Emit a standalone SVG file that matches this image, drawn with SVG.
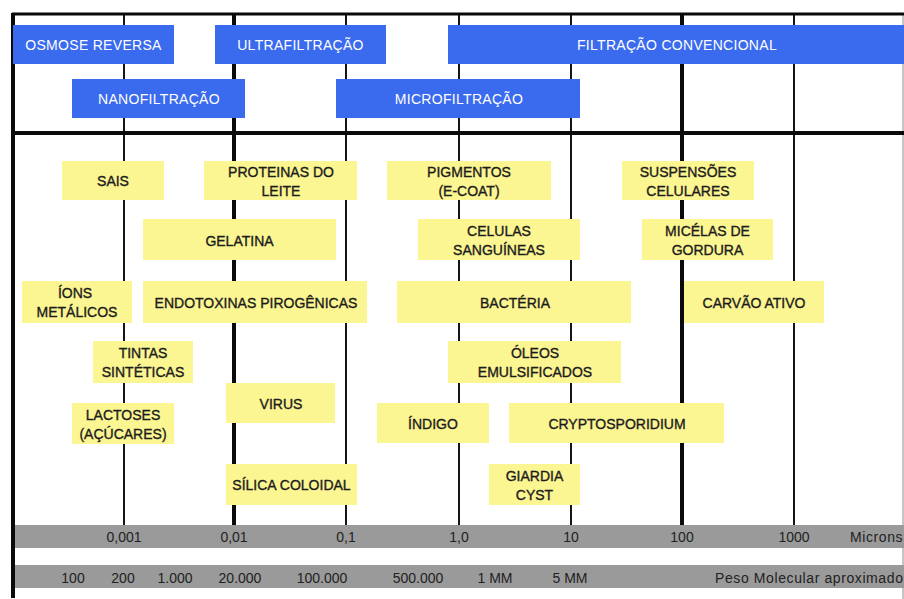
<svg xmlns="http://www.w3.org/2000/svg" width="904" height="599" viewBox="0 0 904 599">
<style>
.blue{fill:#3a6aee}
.yel{fill:#fbf592}
.gray{fill:#9a9a9a}
.bt{font-family:"Liberation Sans",Arial,sans-serif;font-size:14px;fill:#ffffff;text-anchor:middle;letter-spacing:0.3px}
.yt{font-family:"Liberation Sans",Arial,sans-serif;font-size:14px;fill:#1c1c1c;text-anchor:middle;stroke:#1c1c1c;stroke-width:0.35px}
.ax{font-family:"Liberation Sans",Arial,sans-serif;font-size:14px;fill:#222222;text-anchor:middle}
.axl{font-family:"Liberation Sans",Arial,sans-serif;font-size:14px;fill:#222222;letter-spacing:0.6px}
.thin{stroke:#141414;stroke-width:2}
.thick{stroke:#0a0a0a;stroke-width:4}
</style>
<rect x="0" y="0" width="904" height="599" fill="#ffffff"/>
<g id="grid">
  <line class="thin" x1="124" y1="13" x2="124" y2="525"/>
  <line class="thick" x1="234" y1="13" x2="234" y2="525"/>
  <line class="thin" x1="346" y1="13" x2="346" y2="525"/>
  <line class="thin" x1="459" y1="13" x2="459" y2="525"/>
  <line class="thin" x1="571" y1="13" x2="571" y2="525"/>
  <line class="thick" x1="682" y1="13" x2="682" y2="525"/>
  <line class="thin" x1="794" y1="13" x2="794" y2="525"/>
  <line x1="903" y1="13" x2="903" y2="599" stroke="#8a8a8a" stroke-width="1"/>
  <line x1="12" y1="14" x2="904" y2="14" stroke="#0a0a0a" stroke-width="3"/>
  <line x1="12" y1="133" x2="904" y2="133" stroke="#0a0a0a" stroke-width="4"/>
  <line x1="13" y1="13" x2="13" y2="598" stroke="#0a0a0a" stroke-width="4"/>
</g>
<g id="osmose"><rect class="blue" x="13" y="25" width="161" height="39"/><text class="bt" x="93.5" y="49.5">OSMOSE REVERSA</text></g>
<g id="ultrafiltracao"><rect class="blue" x="215" y="25" width="171" height="39"/><text class="bt" x="300.5" y="49.5">ULTRAFILTRAÇÃO</text></g>
<g id="filtracao-convencional"><rect class="blue" x="448" y="25" width="456" height="39"/><text class="bt" x="677" y="49.5">FILTRAÇÃO CONVENCIONAL</text></g>
<g id="nanofiltracao"><rect class="blue" x="72" y="79" width="173" height="39"/><text class="bt" x="159" y="103.5">NANOFILTRAÇÃO</text></g>
<g id="microfiltracao"><rect class="blue" x="336" y="79" width="244" height="39"/><text class="bt" x="459" y="103.5">MICROFILTRAÇÃO</text></g>

<g id="sais"><rect class="yel" x="62" y="161" width="102" height="39"/><text class="yt" x="113" y="186">SAIS</text></g>
<g id="proteinas"><rect class="yel" x="204" y="161" width="153" height="39"/><text class="yt" x="281" y="177">PROTEINAS DO</text><text class="yt" x="281" y="196">LEITE</text></g>
<g id="pigmentos"><rect class="yel" x="387" y="161" width="164" height="39"/><text class="yt" x="469" y="177">PIGMENTOS</text><text class="yt" x="469" y="196">(E-COAT)</text></g>
<g id="suspensoes"><rect class="yel" x="622" y="161" width="132" height="39"/><text class="yt" x="688" y="177">SUSPENSÕES</text><text class="yt" x="688" y="196">CELULARES</text></g>
<g id="gelatina"><rect class="yel" x="143" y="219" width="193" height="41"/><text class="yt" x="239.5" y="246">GELATINA</text></g>
<g id="celulas"><rect class="yel" x="418" y="219" width="162" height="41"/><text class="yt" x="499" y="236">CELULAS</text><text class="yt" x="499" y="255">SANGUÍNEAS</text></g>
<g id="micelas"><rect class="yel" x="642" y="219" width="131" height="41"/><text class="yt" x="707.5" y="236">MICÉLAS DE</text><text class="yt" x="707.5" y="255">GORDURA</text></g>
<g id="ions"><rect class="yel" x="22" y="281" width="110" height="42"/><text class="yt" x="75" y="298">ÍONS</text><text class="yt" x="77" y="317">METÁLICOS</text></g>
<g id="endotoxinas"><rect class="yel" x="143" y="281" width="224" height="42"/><text class="yt" x="256" y="308">ENDOTOXINAS PIROGÊNICAS</text></g>
<g id="bacteria"><rect class="yel" x="397" y="281" width="234" height="42"/><text class="yt" x="515" y="308">BACTÉRIA</text></g>
<g id="carvao"><rect class="yel" x="684" y="281" width="140" height="42"/><text class="yt" x="754" y="308">CARVÃO ATIVO</text></g>
<g id="tintas"><rect class="yel" x="93" y="341" width="100" height="42"/><text class="yt" x="143" y="358">TINTAS</text><text class="yt" x="143" y="377">SINTÉTICAS</text></g>
<g id="oleos"><rect class="yel" x="448" y="341" width="173" height="42"/><text class="yt" x="535" y="358">ÓLEOS</text><text class="yt" x="535" y="377">EMULSIFICADOS</text></g>
<g id="virus"><rect class="yel" x="226" y="383" width="109" height="40"/><text class="yt" x="281" y="409">VIRUS</text></g>
<g id="lactoses"><rect class="yel" x="72" y="403" width="102" height="41"/><text class="yt" x="123" y="420">LACTOSES</text><text class="yt" x="123" y="439">(AÇÚCARES)</text></g>
<g id="indigo"><rect class="yel" x="377" y="403" width="112" height="40"/><text class="yt" x="433" y="429">ÍNDIGO</text></g>
<g id="cryptosporidium"><rect class="yel" x="509" y="403" width="215" height="40"/><text class="yt" x="617" y="429">CRYPTOSPORIDIUM</text></g>
<g id="silica"><rect class="yel" x="226" y="464" width="131" height="41"/><text class="yt" x="291.5" y="490">SÍLICA COLOIDAL</text></g>
<g id="giardia"><rect class="yel" x="489" y="464" width="91" height="41"/><text class="yt" x="534.5" y="481">GIARDIA</text><text class="yt" x="534.5" y="500">CYST</text></g>

<g id="escala-microns">
  <rect class="gray" x="15" y="525" width="889" height="23"/>
  <text class="ax" x="124" y="542">0,001</text>
  <text class="ax" x="234" y="542">0,01</text>
  <text class="ax" x="346" y="542">0,1</text>
  <text class="ax" x="459" y="542">1,0</text>
  <text class="ax" x="571" y="542">10</text>
  <text class="ax" x="682" y="542">100</text>
  <text class="ax" x="794" y="542">1000</text>
  <text class="axl" x="850" y="542">Microns</text>
</g>
<g id="escala-peso">
  <rect class="gray" x="15" y="565" width="889" height="23"/>
  <text class="ax" x="73" y="583">100</text>
  <text class="ax" x="123" y="583">200</text>
  <text class="ax" x="175" y="583">1.000</text>
  <text class="ax" x="240" y="583">20.000</text>
  <text class="ax" x="322" y="583">100.000</text>
  <text class="ax" x="418" y="583">500.000</text>
  <text class="ax" x="495" y="583">1 MM</text>
  <text class="ax" x="570" y="583">5 MM</text>
  <text class="axl" x="715" y="583">Peso Molecular aproximado</text>
</g>
</svg>
